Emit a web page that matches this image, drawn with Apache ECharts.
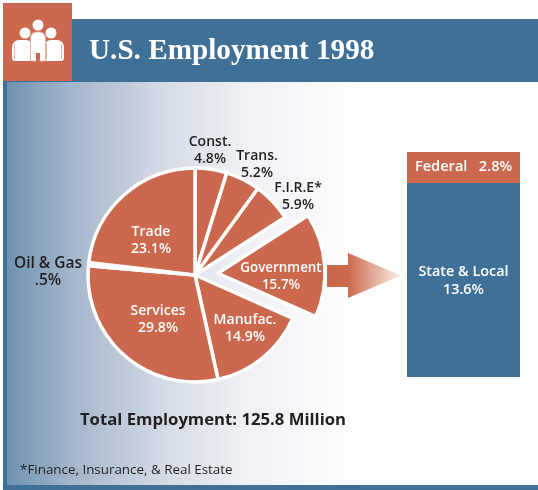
<!DOCTYPE html>
<html><head><meta charset="utf-8">
<style>html,body{margin:0;padding:0;background:#fff}#c{width:538px;height:490px}</style>
<script src="https://cdn.jsdelivr.net/npm/echarts@6/dist/echarts.min.js"></script>
</head><body><div id="c"></div>
<script>
const sectorNames = ['Const.','Trans.','F.I.R.E*','Government','Manufac.','Services','Oil & Gas','Trade'];
const sectorValues = [4.8,5.2,5.9,15.7,14.9,29.8,0.5,23.1];
const sectorLabels = ['4.8%','5.2%','5.9%','15.7%','14.9%','29.8%','.5%','23.1%'];
const govNames = ['Federal','State & Local'];
const govValues = [2.8,13.6];
const titleText = 'U.S. Employment 1998';
const totalText = 'Total Employment: 125.8 Million';
const noteText = '*Finance, Insurance, & Real Estate';

const BLUE='#3f7198', RUST='#cb684d', INK='#231f20';
const labelSpot = {
 'Const.':[210,151,false,14],'Trans.':[257,165,false,14],'F.I.R.E*':[298,197,false,14],
 'Manufac.':[245,329,true,14],'Services':[158,320,true,14],
 'Oil & Gas':[48,272,false,15.5],'Trade':[151,241,true,14]
};
const FF='"Open Sans","DejaVu Sans",sans-serif';
const explodedIndex = sectorNames.indexOf('Government');
const chart=echarts.init(document.getElementById('c'),null,{renderer:'canvas'});
const sidePerson=(cx,headY,headR,x,y,w,h)=>[
 {type:'circle',shape:{cx,cy:headY,r:headR},style:{fill:'#fff'}},
 {type:'rect',shape:{x,y,width:w,height:h,r:[7,7,3,3]},style:{fill:'#fff'}},
 {type:'line',shape:{x1:x+2.5,y1:y+4,x2:x+2.5,y2:y+h-2},style:{stroke:'#e7b3a3',lineWidth:1}},
 {type:'line',shape:{x1:x+w-2.5,y1:y+4,x2:x+w-2.5,y2:y+h-2},style:{stroke:'#e7b3a3',lineWidth:1}}
];
chart.setOption({
 animation:false,
 backgroundColor:'#fff',
 grid:[
  {left:407,top:152,width:113,height:31},
  {left:407,top:183,width:113,height:194}
 ],
 xAxis:[
  {type:'category',gridIndex:0,data:[govNames[0]],show:false},
  {type:'category',gridIndex:1,data:[govNames[1]],show:false}
 ],
 yAxis:[
  {type:'value',gridIndex:0,min:0,max:govValues[0],show:false},
  {type:'value',gridIndex:1,min:0,max:govValues[1],show:false}
 ],
 graphic:{elements:[
  {type:'rect',z:-10,shape:{x:3,y:82,width:535,height:408},style:{fill:BLUE}},
  {type:'rect',z:-9,shape:{x:7,y:82,width:531,height:403},style:{fill:new echarts.graphic.LinearGradient(0,0,1,0,[
    {offset:0,color:'#6e93b2'},{offset:.12,color:'#a3b5cb'},{offset:.3,color:'#d5dce6'},{offset:.45,color:'#eff1f5'},{offset:.68,color:'#ffffff'},{offset:1,color:'#ffffff'}])}},
  {type:'rect',z:-8,shape:{x:3,y:19,width:535,height:63},style:{fill:BLUE}},
  {type:'rect',z:-7,shape:{x:3,y:3,width:69,height:78},style:{fill:RUST}},
  {type:'group',z:-6,children:[
    ...sidePerson(25,33,5.5,12,40,21,21),
    ...sidePerson(51,33,5.5,44,40,20,21),
    {type:'circle',shape:{cx:38,cy:25,r:5.5},style:{fill:'#fff'}},
    {type:'rect',shape:{x:30.5,y:32,width:15,height:29,r:[6,6,1,1]},style:{fill:'#fff',stroke:'#e7b3a3',lineWidth:1}},
    {type:'rect',shape:{x:36,y:53,width:4,height:9},style:{fill:RUST}}
  ]},
  {type:'text',z:5,style:{text:titleText,x:89,y:51,fill:'#fff',font:'bold 29.2px "Liberation Serif"',textVerticalAlign:'middle'}},
  {type:'text',z:5,style:{text:totalText,x:213,y:420,fill:INK,font:'bold 16.7px '+FF,textAlign:'center',textVerticalAlign:'middle'}},
  {type:'text',z:5,style:{text:noteText,x:20,y:470,fill:INK,font:'13.4px "Open Sans"',textVerticalAlign:'middle'}},
  {type:'text',z:50,style:{text:sectorNames[explodedIndex]+'\n'+sectorLabels[explodedIndex],x:281,y:277,fill:'#fff',font:'600 13.4px '+FF,lineHeight:17,textAlign:'center',textVerticalAlign:'middle'}},
  {type:'rect',z:1,shape:{x:327,y:265,width:22,height:22},style:{fill:RUST}},
  {type:'polygon',z:1,shape:{points:[[348,253],[348,298],[401,275.5]]},style:{fill:new echarts.graphic.LinearGradient(0,0,1,0,[{offset:0,color:RUST},{offset:1,color:'#fbf0ea'}])}}
 ]},
 series:[
  {type:'pie',center:[195,275],radius:[0,107],startAngle:90,clockwise:true,
   selectedMode:'multiple',selectedOffset:23,avoidLabelOverlap:false,
   itemStyle:{color:RUST,borderColor:'#fff',borderWidth:3.5},
   emphasis:{disabled:true},
   labelLine:{show:false},
   data:sectorNames.map((n,i)=>{
     const spot=labelSpot[n];
     return {
     name:n,value:sectorValues[i],selected:i===explodedIndex,
     label:spot?{show:true,position:'inside',formatter:n+'\n'+sectorLabels[i],
       color:spot[2]?'#fff':INK,fontFamily:FF,fontWeight:600,fontSize:spot[3],lineHeight:17,align:'center',verticalAlign:'middle'}:{show:false}
   };}),
   labelLayout:p=>{const s=labelSpot[sectorNames[p.dataIndex]];return s?{x:s[0],y:s[1],align:'center',verticalAlign:'middle'}:{};}
  },
  {type:'bar',xAxisIndex:0,yAxisIndex:0,barWidth:'100%',data:[govValues[0]],itemStyle:{color:RUST},
   label:{show:true,position:'inside',formatter:govNames[0]+'   '+govValues[0]+'%',color:'#fff',fontFamily:FF,fontWeight:600,fontSize:14.6,offset:[0,-1]}},
  {type:'bar',xAxisIndex:1,yAxisIndex:1,barWidth:'100%',data:[govValues[1]],itemStyle:{color:BLUE},
   label:{show:true,position:'inside',formatter:govNames[1]+'\n'+govValues[1]+'%',color:'#fff',fontFamily:FF,fontWeight:600,fontSize:14.4,lineHeight:18,offset:[0,1]}}
 ]
});
</script></body></html>
